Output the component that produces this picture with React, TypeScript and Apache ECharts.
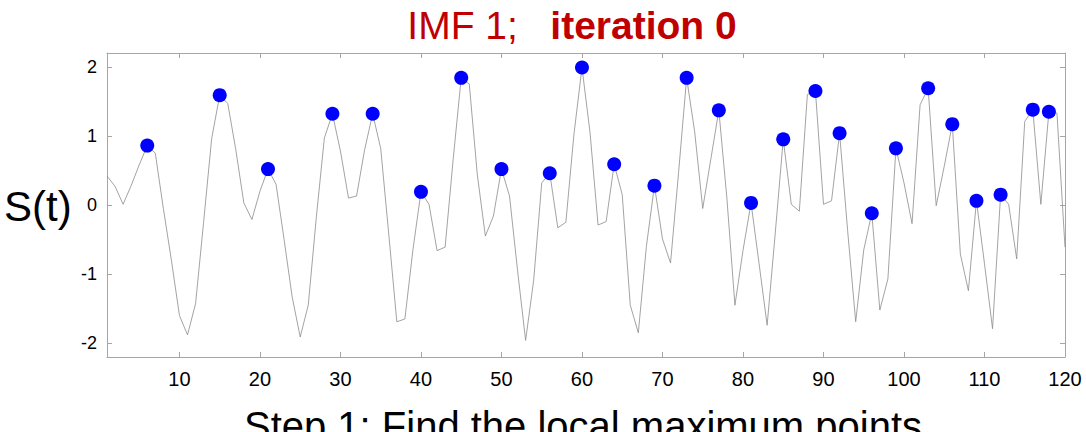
import React, { useEffect, useRef } from "react";
import * as echarts from "echarts";

// Sampled signal S(t), t = 1..120
const signal: number[] = [
  0.42, 0.27, 0.01, 0.28, 0.58, 0.86, 0.75, -0.05, -0.8, -1.6,
  -1.88, -1.43, -0.25, 0.96, 1.59, 1.47, 0.8, 0.03, -0.21, 0.2,
  0.52, 0.3, -0.5, -1.33, -1.91, -1.45, -0.18, 0.97, 1.32, 0.78,
  0.1, 0.13, 0.8, 1.32, 0.82, -0.42, -1.69, -1.65, -0.65, 0.19,
  0.01, -0.66, -0.61, 0.66, 1.84, 1.75, 0.44, -0.45, -0.16, 0.52,
  0.13, -0.95, -1.96, -1.09, 0.32, 0.46, -0.33, -0.25, 1.02, 1.99,
  1.05, -0.29, -0.24, 0.59, 0.15, -1.45, -1.85, -0.6, 0.28, -0.49,
  -0.84, 0.47, 1.84, 1.06, -0.05, 0.66, 1.37, 0.1, -1.45, -0.66,
  0.03, -0.85, -1.74, -0.42, 0.95, 0.01, -0.09, 1.6, 1.65, 0.01,
  0.06, 1.04, -0.37, -1.69, -0.65, -0.12, -1.52, -1.07, 0.82, 0.32,
  -0.27, 1.45, 1.69, -0.01, 0.56, 1.17, -0.71, -1.24, 0.06, -0.85,
  -1.79, 0.15, 0.01, -0.78, 1.21, 1.38, 0.01, 1.35, 1.33, -0.61,
];

const xTicks: number[] = [10, 20, 30, 40, 50, 60, 70, 80, 90, 100, 110, 120];
const yTicks: number[] = [-2, -1, 0, 1, 2];

const titleLeft = "IMF 1;";
const titleRight = "iteration 0";
const yName = "S(t)";
const caption = "Step 1: Find the local maximum points";

// Interior local maxima of the signal
function localMaxima(values: number[]): [number, number][] {
  const out: [number, number][] = [];
  for (let i = 1; i < values.length - 1; i++) {
    if (values[i] > values[i - 1] && values[i] > values[i + 1]) {
      out.push([i + 1, values[i]]);
    }
  }
  return out;
}

export default function App() {
  const ref = useRef<HTMLDivElement>(null);

  useEffect(() => {
    if (!ref.current) return;
    const chart = echarts.init(ref.current, null, { renderer: "svg" });
    const lineData = signal.map((v, i) => [i + 1, v]);
    const peaks = localMaxima(signal);
    const frame = "#a6a6a6";
    const font = "'Liberation Sans', Arial, sans-serif";
    const red = "#c00000";

    const baseX = {
      type: "value" as const,
      min: 1,
      max: 120,
      axisLine: { show: true, onZero: false, lineStyle: { color: frame, width: 1 } },
      splitLine: { show: false },
    };
    const baseY = {
      type: "value" as const,
      min: -2.2,
      max: 2.2,
      axisLine: { show: true, onZero: false, lineStyle: { color: frame, width: 1 } },
      splitLine: { show: false },
    };
    const tick = (values: number[]) => ({
      show: true,
      inside: true,
      length: 5,
      customValues: values,
      lineStyle: { color: frame },
    });

    chart.setOption({
      animation: false,
      backgroundColor: "#ffffff",
      grid: { left: 107, right: 21, top: 53, bottom: 75, containLabel: false },
      xAxis: [
        {
          ...baseX,
          position: "bottom",
          axisTick: tick(xTicks),
          axisLabel: {
            show: true,
            customValues: xTicks,
            color: "#000",
            fontSize: 20,
            fontFamily: font,
            margin: 12,
          },
        },
        {
          ...baseX,
          position: "top",
          axisTick: tick(xTicks),
          axisLabel: { show: false },
        },
      ],
      yAxis: [
        {
          ...baseY,
          position: "left",
          axisTick: tick(yTicks),
          axisLabel: {
            show: true,
            customValues: yTicks,
            color: "#000",
            fontSize: 18,
            fontFamily: font,
            margin: 10,
          },
        },
        {
          ...baseY,
          position: "right",
          axisTick: tick(yTicks),
          axisLabel: { show: false },
        },
      ],
      series: [
        {
          type: "line",
          data: lineData,
          showSymbol: false,
          symbol: "none",
          lineStyle: { color: "#8c8c8c", width: 0.8 },
          z: 2,
        },
        {
          type: "scatter",
          data: peaks,
          symbol: "circle",
          symbolSize: 14,
          itemStyle: { color: "#0000ff", opacity: 1 },
          z: 3,
        },
      ],
      graphic: [
        {
          type: "text",
          x: 572,
          y: 6,
          style: {
            text: `{a|${titleLeft}}{s|   }{b|${titleRight}}`,
            align: "center",
            verticalAlign: "top",
            rich: {
              a: { fontSize: 39, fontFamily: font, fill: red },
              s: { fontSize: 39, fontFamily: font },
              b: { fontSize: 39, fontFamily: font, fontWeight: "bold", fill: red },
            },
          },
        },
        {
          type: "text",
          x: 4,
          y: 206,
          style: {
            text: yName,
            fontSize: 42,
            fontFamily: font,
            fill: "#000",
            align: "left",
            verticalAlign: "middle",
          },
        },
        {
          type: "text",
          x: 583,
          y: 406,
          style: {
            text: caption,
            fontSize: 40,
            fontFamily: font,
            fill: "#000",
            align: "center",
            verticalAlign: "top",
          },
        },
      ],
    });

    return () => chart.dispose();
  }, []);

  return (
    <div
      ref={ref}
      style={{ width: 1086, height: 432, position: "absolute", left: 0, top: 0 }}
    />
  );
}
